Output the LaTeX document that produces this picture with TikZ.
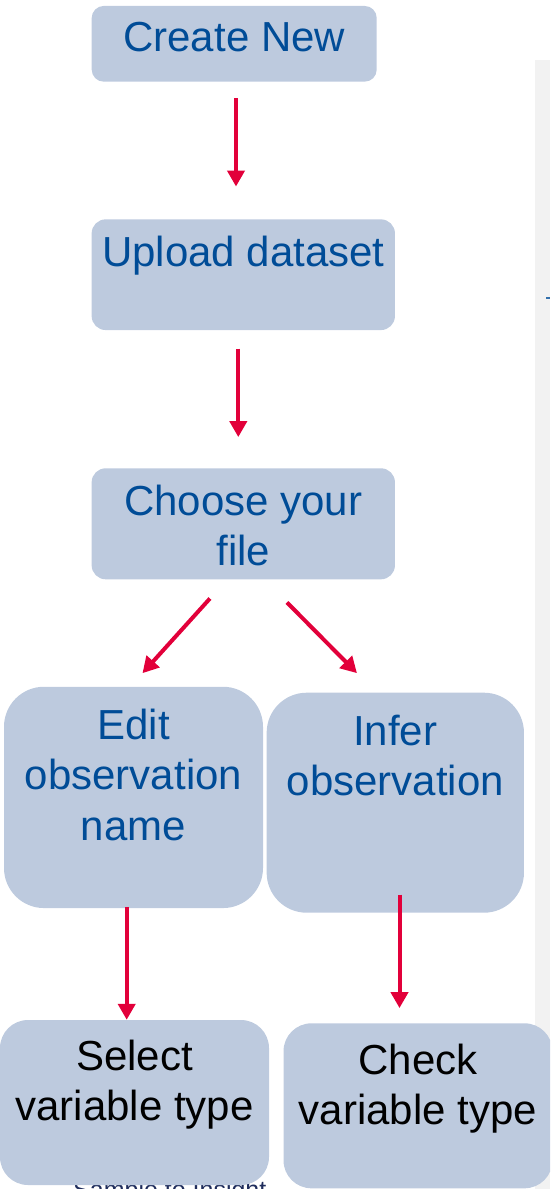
\documentclass[tikz,border=0pt]{standalone}
\usepackage{fontspec}
\setmainfont{Liberation Sans}
\usetikzlibrary{arrows.meta}

\definecolor{boxfill}{RGB}{189,202,222}
\definecolor{textblue}{RGB}{0,76,151}
\definecolor{arrowred}{RGB}{226,0,58}
\definecolor{panelgray}{RGB}{242,242,242}
\definecolor{footnavy}{RGB}{31,45,92}

\newcommand{\boxtext}[4]{\parbox[c][#1pt][t]{#2pt}{\centering\rule{0pt}{#3pt}#4}}

\tikzset{
  stepbox/.style={fill=boxfill, inner sep=0pt, text=textblue, font=\fontsize{42}{50.5}\selectfont},
  flow/.style={draw=arrowred, line width=4pt, -{Triangle[length=16pt,width=17pt]}}
}

\begin{document}
\begin{tikzpicture}[x=1pt,y=-1pt]
    \useasboundingbox (0,0) rectangle (550,1189);
    \clip (0,0) rectangle (550,1189);
    \fill[panelgray] (535,60) rectangle (550,1189);
    \draw[textblue!80, line width=2pt] (546,298) -- (550,298);
    \node[font=\fontsize{25}{30}\selectfont, text=footnavy, anchor=base west, inner sep=0pt] (footer) at (73,1198) {Sample to Insight};

    \node[stepbox, rounded corners=12pt] (create) at (234.2,43.8) {\boxtext{75.7}{285}{45.7}{Create New}};
    \node[stepbox, rounded corners=14pt] (upload) at (243.3,274.7) {\boxtext{110.7}{303.3}{47.4}{Upload dataset}};
    \node[stepbox, rounded corners=14pt] (choose) at (243.3,523.8) {\boxtext{111}{303.3}{46.7}{Choose your\\file}};
    \node[stepbox, rounded corners=40pt] (edit) at (133.5,797.4) {\boxtext{221.3}{259}{52.6}{Edit\\observation\\name}};
    \node[stepbox, rounded corners=40pt] (infer) at (395.3,802.7) {\boxtext{220}{257.3}{52.3}{Infer\\observation}};
    \node[stepbox, rounded corners=28pt, text=black] (select) at (134.5,1102.5) {\boxtext{165}{269}{50}{Select\\variable type}};
    \node[stepbox, rounded corners=28pt, text=black] (check) at (418,1105.8) {\boxtext{165}{269}{50.7}{Check\\variable type}};

    \draw[flow, shorten <=16.6pt, shorten >=32.6pt] ([xshift=1.8pt]create.south) -- ([xshift=-7.3pt]upload.north);
    \draw[flow, shorten <=18.3pt, shorten >=31pt] ([xshift=-5pt]upload.south) -- ([xshift=-5pt]choose.north);
    \draw[flow, shorten <=25.6pt, shorten >=18pt] ([xshift=-16.2pt]choose.south) -- ([xshift=-3.1pt]edit.north);
    \draw[flow, shorten <=32.3pt, shorten >=27.2pt] ([xshift=21pt]choose.south) -- ([xshift=-19.2pt]infer.north);
    \draw[flow, shorten <=-1.3pt] ([xshift=-6.8pt]edit.south) -- ([xshift=-7.8pt]select.north);
    \draw[flow, shorten <=-18.4pt, shorten >=15pt] ([xshift=4.2pt]infer.south) -- ([xshift=-18.5pt]check.north);
\end{tikzpicture}
\end{document}
